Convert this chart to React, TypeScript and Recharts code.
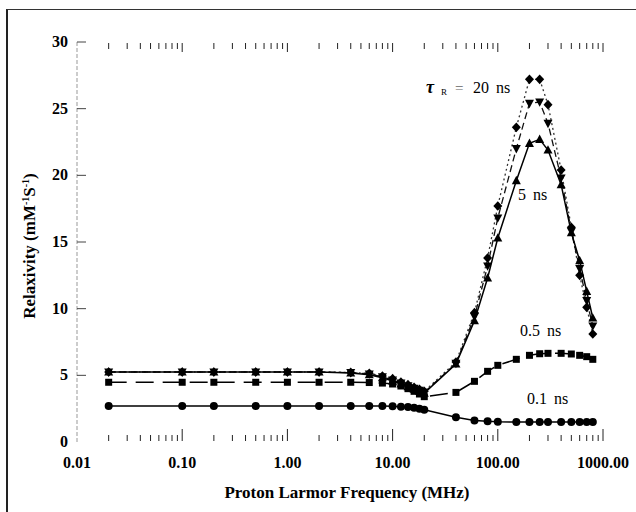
import React from "react";
import { LineChart, Line, XAxis, YAxis } from "recharts";

// Proton Larmor frequency (MHz)
const freq = [0.02, 0.1, 0.2, 0.5, 1, 2, 4, 6, 8, 10, 12, 14, 16, 18, 20, 40, 60, 80, 100, 150, 200, 250, 300, 400, 500, 600, 700, 800];

// relaxivity (mM-1 s-1) per rotational correlation time
const tau20 = [5.25, 5.25, 5.25, 5.25, 5.25, 5.25, 5.22, 5.15, 4.95, 4.75, 4.5, 4.3, 4.1, 3.95, 3.8, 6.0, 9.7, 13.8, 17.7, 23.6, 27.2, 27.2, 25.3, 20.4, 16.1, 12.5, 10.1, 8.1];
const tau10 = [5.25, 5.25, 5.25, 5.25, 5.25, 5.25, 5.2, 5.1, 4.88, 4.65, 4.42, 4.22, 4.03, 3.87, 3.72, 5.9, 9.4, 13.2, 16.8, 22.0, 25.4, 25.5, 23.9, 19.8, 15.8, 13.0, 10.6, 8.7];
const tau5 = [5.25, 5.25, 5.25, 5.25, 5.25, 5.25, 5.18, 5.05, 4.82, 4.58, 4.36, 4.16, 3.97, 3.82, 3.67, 5.85, 9.1, 12.3, 15.3, 19.6, 22.4, 22.7, 21.9, 19.3, 15.7, 13.6, 11.3, 9.3];
const tau05 = [4.48, 4.48, 4.48, 4.48, 4.48, 4.48, 4.48, 4.46, 4.42, 4.35, 4.2, 4.0, 3.8, 3.6, 3.4, 3.72, 4.55, 5.3, 5.75, 6.2, 6.5, 6.62, 6.65, 6.65, 6.6, 6.5, 6.4, 6.2];
const tau01 = [2.7, 2.7, 2.7, 2.7, 2.7, 2.7, 2.7, 2.7, 2.7, 2.68, 2.65, 2.62, 2.57, 2.5, 2.42, 1.85, 1.62, 1.55, 1.52, 1.5, 1.5, 1.5, 1.5, 1.5, 1.5, 1.5, 1.5, 1.5];

const majorTicks = [0.01, 0.1, 1, 10, 100, 1000];
const mantissas = [2, 3, 4, 5, 6, 7, 8, 9];
const yTicks = [0, 5, 10, 15, 20, 25, 30];

const allTicks: number[] = [];
majorTicks.forEach((m, i) => {
  allTicks.push(m);
  if (i < majorTicks.length - 1) mantissas.forEach((k) => allTicks.push(+(k * m).toPrecision(3)));
});

const data = freq.map((f, i) => ({
  f,
  t20: tau20[i],
  t10: tau10[i],
  t5: tau5[i],
  t05: tau05[i],
  t01: tau01[i],
}));

const FONT = "'Liberation Serif', 'Times New Roman', serif";
const isMajor = (v: number) => majorTicks.some((m) => Math.abs(m - v) < 1e-9);

const mkDot = (kind: string) => (p: any) => {
  const { cx, cy, index } = p;
  const k = `${kind}-${index}`;
  if (cx == null || cy == null) return <g key={k} />;
  if (kind === "diamond")
    return <path key={k} d={`M${cx},${cy - 4.8}L${cx + 4.5},${cy}L${cx},${cy + 4.8}L${cx - 4.5},${cy}Z`} fill="#000" />;
  if (kind === "down")
    return <path key={k} d={`M${cx - 4.5},${cy - 3.6}L${cx + 4.5},${cy - 3.6}L${cx},${cy + 4.8}Z`} fill="#000" />;
  if (kind === "up")
    return <path key={k} d={`M${cx - 4.5},${cy + 3.6}L${cx + 4.5},${cy + 3.6}L${cx},${cy - 4.8}Z`} fill="#000" />;
  if (kind === "square") return <rect key={k} x={cx - 3.5} y={cy - 3.5} width={7} height={7} fill="#000" />;
  return <circle key={k} cx={cx} cy={cy} r={4} fill="#000" />;
};

const BottomTick = (p: any) => {
  const { x, y, payload } = p;
  const v = payload.value;
  const major = isMajor(v);
  return (
    <g>
      {v > 0.011 && <line x1={x} x2={x} y1={y - 1} y2={y - (major ? 13 : 7)} stroke="#222" strokeWidth={1} />}
      {major && (
        <text x={x} y={y + 26} textAnchor="middle" fontFamily={FONT} fontWeight="bold" fontSize={16} fill="#000">
          {v.toFixed(2)}
        </text>
      )}
    </g>
  );
};

const TopTick = (p: any) => {
  const { x, y, payload } = p;
  const v = payload.value;
  if (v < 0.011) return <g />;
  return <line x1={x} x2={x} y1={y + 1} y2={y + (isMajor(v) ? 10 : 7)} stroke="#222" strokeWidth={1} />;
};

const LeftTick = (p: any) => {
  const { x, y, payload } = p;
  return (
    <g>
      {payload.value > 0 && <line x1={x} x2={x + 9} y1={y} y2={y} stroke="#444" strokeWidth={1} />}
      <text x={x - 9} y={y + 5} textAnchor="end" fontFamily={FONT} fontWeight="bold" fontSize={16} fill="#000">
        {payload.value}
      </text>
    </g>
  );
};

export default function App() {
  return (
    <div style={{ position: "absolute", left: 0, top: 0, width: 636, height: 512, background: "#fff", overflow: "hidden" }}>
      <div
        style={{
          position: "absolute",
          left: 6,
          top: 9,
          width: 700,
          height: 600,
          borderLeft: "2px solid #222",
          borderTop: "1px solid #333",
        }}
      />
      <LineChart width={636} height={512} data={data} margin={{ top: 41, right: 33, bottom: 40, left: 0 }}>
        <XAxis
          dataKey="f"
          type="number"
          scale="log"
          domain={[0.01, 1000]}
          ticks={allTicks}
          interval={0}
          axisLine={false}
          tickLine={false}
          tickSize={0}
          tickMargin={0}
          height={30}
          tick={BottomTick}
          allowDataOverflow
        />
        <XAxis
          xAxisId="top"
          orientation="top"
          dataKey="f"
          type="number"
          scale="log"
          domain={[0.01, 1000]}
          ticks={allTicks}
          interval={0}
          axisLine={false}
          tickLine={false}
          tickSize={0}
          tickMargin={0}
          height={1}
          tick={TopTick}
          allowDataOverflow
        />
        <YAxis
          type="number"
          domain={[0, 30]}
          ticks={yTicks}
          interval={0}
          width={77}
          axisLine={{ stroke: "#999", strokeDasharray: "4 2" }}
          tickLine={false}
          tickSize={0}
          tickMargin={0}
          tick={LeftTick}
        />
        <Line dataKey="t20" stroke="#333" strokeWidth={1.3} strokeDasharray="2 3" dot={mkDot("diamond")} activeDot={false} isAnimationActive={false} />
        <Line dataKey="t10" stroke="#111" strokeWidth={1.3} strokeDasharray="7 4" dot={mkDot("down")} activeDot={false} isAnimationActive={false} />
        <Line dataKey="t5" stroke="#000" strokeWidth={1.5} dot={mkDot("up")} activeDot={false} isAnimationActive={false} />
        <Line dataKey="t05" stroke="#000" strokeWidth={1.5} strokeDasharray="18 9" dot={mkDot("square")} activeDot={false} isAnimationActive={false} />
        <Line dataKey="t01" stroke="#000" strokeWidth={1.5} dot={mkDot("circle")} activeDot={false} isAnimationActive={false} />
      </LineChart>
      <svg width={636} height={512} style={{ position: "absolute", left: 0, top: 0, pointerEvents: "none" }}>
        <g fontFamily={FONT} fill="#000">
          <text x={426} y={93} fontSize={18} fontWeight="bold" fontStyle="italic">τ</text>
          <text x={441} y={95} fontSize={9}>R</text>
          <text x={455} y={93} fontSize={15} fill="#666">=</text>
          <text x={473} y={93} fontSize={16} wordSpacing={3}>20 ns</text>
          <text x={518} y={200} fontSize={16} wordSpacing={3}>5 ns</text>
          <text x={520} y={336} fontSize={16} wordSpacing={3}>0.5 ns</text>
          <text x={527} y={404} fontSize={16} wordSpacing={3}>0.1 ns</text>
          <text x={347} y={498} fontSize={17} fontWeight="bold" textAnchor="middle">Proton Larmor Frequency (MHz)</text>
          <text transform="translate(35,246) rotate(-90)" fontSize={17} fontWeight="bold" textAnchor="middle">
            Relaxivity (mM<tspan dy={-6} fontSize={10}>-1</tspan>
            <tspan dy={6}>S</tspan>
            <tspan dy={-6} fontSize={10}>-1</tspan>
            <tspan dy={6}>)</tspan>
          </text>
        </g>
      </svg>
    </div>
  );
}
